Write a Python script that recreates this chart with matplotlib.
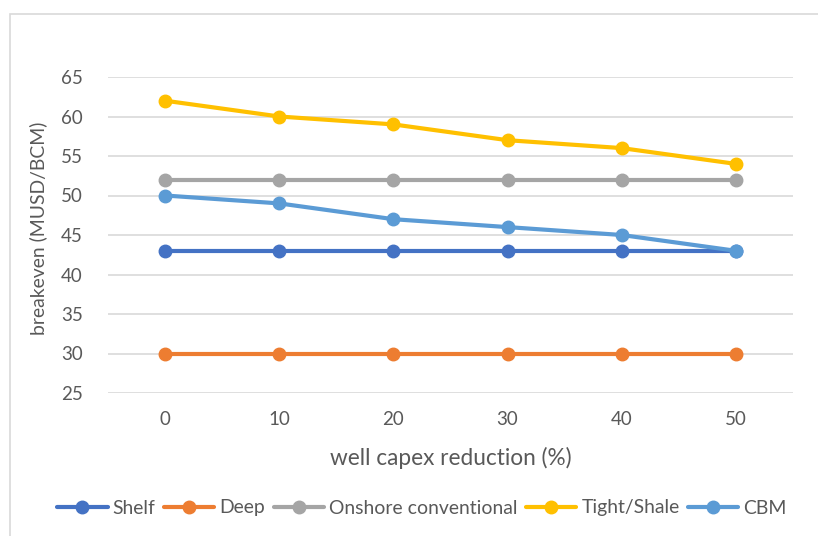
import matplotlib
matplotlib.use("Agg")
import matplotlib.pyplot as plt
from matplotlib.patches import Rectangle

# data
capex_reduction = [0, 10, 20, 30, 40, 50]
shelf = [43, 43, 43, 43, 43, 43]
deep = [30, 30, 30, 30, 30, 30]
onshore = [52, 52, 52, 52, 52, 52]
tight_shale = [62, 60, 59, 57, 56, 54]
cbm = [50, 49, 47, 46, 45, 43]

series = [
    ("Shelf", shelf, "#4472C4"),
    ("Deep", deep, "#ED7D31"),
    ("Onshore conventional", onshore, "#A5A5A5"),
    ("Tight/Shale", tight_shale, "#FFC000"),
    ("CBM", cbm, "#5B9BD5"),
]

plt.rcParams["font.family"] = ["Lato", "DejaVu Sans"]
text_color = "#595959"

W, H = 818, 536
fig = plt.figure(figsize=(W / 100, H / 100), dpi=100)

# chart area border (Excel style)
fig.patches.append(Rectangle((10 / W, -0.05), 1.2, 1 - 14 / H + 0.05,
                             transform=fig.transFigure, fill=False,
                             edgecolor="#D9D9D9", linewidth=1.2))

ax = fig.add_axes([108 / W, 1 - 393 / H, (793 - 108) / W, (393 - 77) / H])

x = list(range(len(capex_reduction)))
for name, vals, color in series:
    ax.plot(x, vals, color=color, linewidth=3, marker="o", markersize=9,
            label=name, solid_capstyle="round")

ax.set_xlim(-0.5, len(x) - 0.5)
ax.set_ylim(25, 65)
ax.set_yticks(range(25, 66, 5))
ax.set_xticks(x)
ax.set_xticklabels([str(v) for v in capex_reduction])
ax.grid(axis="y", color="#D9D9D9", linewidth=1.2)
ax.set_axisbelow(True)
for side in ["top", "right", "left", "bottom"]:
    ax.spines[side].set_visible(False)
ax.tick_params(length=0, labelsize=13.5, labelcolor=text_color)
ax.tick_params(axis="y", pad=18)
ax.tick_params(axis="x", pad=13)

renderer = fig.canvas.get_renderer()


def fit_size(txt, target, size, vertical=False):
    # scale font size so the text spans the target number of pixels
    for _ in range(3):
        txt.set_fontsize(size)
        bb = txt.get_window_extent(renderer)
        span = bb.height if vertical else bb.width
        size *= target / span
    txt.set_fontsize(size)
    return size


# axis titles placed where the reference has them
xl = fig.text(451 / W, 1 - 458 / H, "well capex reduction (%)", color=text_color,
              ha="center", va="center")
fit_size(xl, 242, 16)
yl = fig.text(38 / W, 1 - 228 / H, "breakeven (MUSD/BCM)", color=text_color,
              ha="center", va="center", rotation=90)
fit_size(yl, 215, 14, vertical=True)

leg_size = 13.5
for _ in range(3):
    leg = fig.legend(loc="center", bbox_to_anchor=(422 / W, 1 - 508 / H), ncol=5,
                     frameon=False, fontsize=leg_size, handlelength=2.6,
                     handletextpad=0.27, columnspacing=0.43, labelcolor=text_color,
                     borderpad=0, borderaxespad=0)
    width = leg.get_window_extent(renderer).width
    if abs(width - 728) < 2:
        break
    leg.remove()
    leg_size *= 728 / width

fig.savefig("out.png", dpi=100)
